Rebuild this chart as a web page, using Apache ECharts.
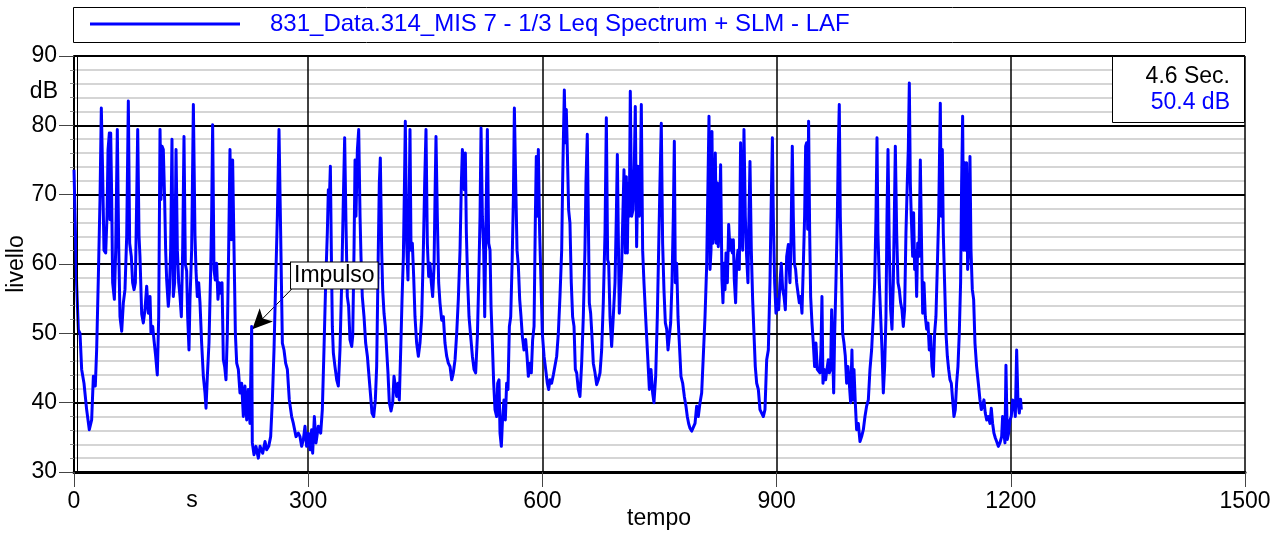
<!DOCTYPE html>
<html>
<head>
<meta charset="utf-8">
<script src="https://cdn.jsdelivr.net/npm/echarts@6/dist/echarts.min.js"></script>
<style>
html,body{margin:0;padding:0;background:#fff;}
#chart{width:1285px;height:533px;}
</style>
</head>
<body>
<div id="chart"></div>
<script>
// ---- DATA ----
const seriesName = '831_Data.314_MIS 7 - 1/3 Leq Spectrum + SLM - LAF';
const xTicks = [0, 300, 600, 900, 1200, 1500];
const yTicks = [30, 40, 50, 60, 70, 80, 90];
const readoutTime = '4.6 Sec.';
const readoutLevel = '50.4 dB';
const impulseText = 'Impulso';
const impulsePoint = [228.4, 50.6];
const impulseLabelAnchor = [278, 60.2];
const impulseArrowTail = [279, 56.4];

const times = [
0,3.4,5.6,7.7,9.8,12.8,16.2,19.6,22.6,24.8,27.3,29.0,31.2,33.3,35.0,36.7,38.4,40.6,42.3,43.6,45.3,46.1,47.0,48.2,49.5,51.7,53.4,55.5,57.2,58.9,61.1,63.2,65.3,67.5,69.6,71.3,73.4,75.1,76.9,78.6,80.3,81.6,83.3,84.5,86.7,88.8,90.9,93.1,95.2,97.4,98.6,100.8,102.5,104.6,106.7,108.5,110.2,111.4,112.7,114.4,116.1,117.4,118.7,120.8,122.1,123.8,125.5,127.2,128.9,130.7,132.4,134.1,135.8,137.5,139.2,140.9,142.6,144.3,145.6,147.3,148.6,150.7,152.9,155.0,156.3,158.0,159.7,161.4,163.5,165.7,167.8,169.1,170.8,172.9,175.1,176.3,177.6,179.3,181.0,182.7,184.4,186.2,187.9,189.6,191.3,193.0,194.7,196.4,198.1,199.8,201.5,203.2,205.0,206.7,208.4,210.5,212.6,214.8,216.9,219.0,221.2,223.3,225.4,227.6,228.4,230.6,233.1,236.1,238.3,241.7,244.7,246.8,249.4,251.9,254.1,256.2,258.3,260.5,262.6,264.7,266.9,269.0,271.1,273.3,275.8,278.8,281.0,284.4,287.4,
289.5,291.6,293.8,295.9,298.0,300.2,302.3,304.4,305.7,307.9,310.0,313.0,316.0,318.1,320.2,322.4,324.5,325.8,327.1,328.4,329.6,330.9,332.2,334.3,336.5,338.6,340.7,342.9,345.0,346.7,348.4,350.1,351.8,353.5,355.7,357.0,358.7,360.0,361.2,363.0,364.7,366.4,367.6,369.3,371.5,373.6,375.8,377.9,380.0,381.7,383.9,386.0,387.7,389.8,391.1,392.4,394.1,395.4,397.1,398.8,400.5,402.2,403.9,406.1,408.2,409.9,411.6,413.3,415.0,416.7,418.5,420.2,421.9,423.2,424.4,426.1,427.8,429.1,430.4,431.7,433.4,435.1,436.8,438.9,441.1,443.2,445.4,447.5,449.2,450.9,452.6,454.3,456.0,457.7,459.4,461.2,462.4,463.7,465.4,467.1,468.8,471.0,473.1,475.2,477.4,479.5,481.7,483.8,485.9,488.1,490.2,492.3,494.5,496.2,497.5,498.7,500.0,501.3,502.6,504.3,506.0,508.1,510.3,512.4,514.5,516.7,518.4,520.1,521.4,523.1,524.8,526.1,527.8,529.5,531.2,532.9,534.2,535.9,537.6,539.3,541.4,542.7,544.4,545.7,547.4,549.1,550.8,552.5,554.2,555.9,557.7,559.4,561.1,562.8,564.1,565.8,567.5,569.2,570.9,572.6,574.3,576.4,578.6,580.3,582.0,584.1,585.8,587.5,589.3,591.0,592.2,593.5,594.8,596.5,598.2,599.9,602.1,604.2,606.3,608.0,
609.7,611.8,614.0,616.1,618.3,620.4,622.5,624.7,625.9,626.8,628.1,629.4,630.6,631.9,633.6,635.3,637.0,638.7,640.5,642.2,643.9,646.0,648.1,650.3,652.4,654.5,655.8,657.5,658.8,660.1,661.8,663.5,665.2,667.4,669.5,671.6,673.8,675.9,678.0,680.2,681.9,683.6,684.9,686.6,688.7,690.8,693.0,694.7,696.0,697.2,698.5,700.2,701.5,702.8,704.5,706.2,707.5,708.8,710.1,711.3,712.6,714.3,716.0,717.7,719.0,720.7,722.4,724.1,725.4,726.7,728.4,730.1,731.8,733.5,735.7,737.0,739.1,741.2,742.9,745.1,747.2,748.9,750.6,752.3,754.0,755.7,757.5,759.2,760.9,762.6,764.3,766.0,767.7,769.0,770.3,772.0,773.7,775.4,777.5,779.7,781.8,783.9,785.6,787.3,789.1,791.2,793.3,795.5,797.6,799.7,801.9,804.0,806.1,808.3,810.4,812.1,813.4,814.7,816.0,817.2,818.5,819.8,821.5,822.8,824.1,825.3,827.0,828.3,830.0,831.3,832.6,833.9,835.2,836.9,838.6,840.3,841.6,843.3,844.6,845.8,847.5,848.8,850.5,852.2,853.9,855.2,856.5,858.2,859.9,861.6,863.3,864.6,865.9,867.6,869.3,871.0,872.7,874.5,876.6,878.7,880.9,883.0,885.1,887.3,889.4,891.5,892.8,894.6,895.8,897.5,899.2,900.9,902.6,904.3,906.0,907.8,909.5,911.2,912.9,915.0,916.7,
917.1,918.4,920.1,921.4,922.7,924.4,925.7,927.4,929.1,930.8,932.5,934.2,935.9,937.2,938.5,939.8,941.0,942.3,943.6,945.3,947.0,948.7,950.4,952.1,953.8,955.5,956.8,958.1,959.4,961.1,962.8,964.5,966.2,967.5,969.2,970.5,971.8,973.1,974.3,976.0,977.8,979.0,980.3,981.6,982.9,984.6,986.3,988.0,989.7,991.4,993.1,994.8,996.5,997.8,999.1,1000.8,1002.5,1004.7,1006.8,1008.9,1011.1,1013.2,1015.3,1017.5,1019.6,1021.7,1023.9,1025.6,1027.3,1028.6,1029.8,1031.6,1033.3,1035.0,1036.7,1038.4,1040.1,1041.4,1042.7,1044.4,1046.1,1047.8,1049.5,1050.8,1052.1,1053.8,1055.5,1057.2,1058.9,1060.6,1062.3,1064.0,1065.7,1067.4,1068.7,1070.0,1071.3,1072.5,1074.3,1075.5,1076.8,1078.1,1079.4,1080.7,1082.4,1084.1,1085.8,1087.1,1088.8,1090.5,1092.2,1093.9,1095.6,1097.3,1099.0,1100.7,1102.4,1104.1,1105.9,1107.6,1108.8,1109.7,1111.0,1112.3,1113.5,1115.2,1117.0,1118.7,1120.4,1122.1,1123.8,1125.5,1127.2,1128.9,1130.6,1132.3,1134.0,1135.7,1137.0,1138.3,1139.6,1140.9,1142.1,1143.4,1144.7,1146.0,1147.7,1149.0,1150.7,1152.4,1154.1,1156.2,1158.4,1160.5,1162.2,1163.9,1165.6,1167.3,1169.1,1171.2,1173.3,1175.0,1176.7,1178.4,1180.2,1181.9,1184.0,1186.1,1188.3,1189.5,1191.3,1192.5,1193.8,1195.5,1197.2,1198.9,1200.6,1202.3,1204.1,1205.8,1207.5,1209.2,1210.9,1212.5,1213.5
];

const levels = [
73.6,57,50.5,50,44.8,42.8,39,36.1,37.5,43.8,42.4,47.6,58.2,69.3,82.5,73,62,61.6,67,76.5,78.9,66.4,78.9,70.2,57.3,54.9,62,79.4,63,52.4,50.3,54.4,56.3,64,83.5,63,61.1,57.3,56.3,57.3,69.3,79.4,64,61.1,52.8,51.5,53.4,56.8,52.9,55.3,50,51,49,46.7,44,52.4,79.4,69.3,77,76.5,69.3,62,57.7,53.9,55.8,62,78,55.3,57.3,76.5,62,57.3,55.3,52.4,62,78.4,60,59,52.4,47.6,55,62,83,64,59,55.3,57.3,54.4,48.6,43.8,41.4,39.2,43.8,48.6,59.2,66.9,80.1,59.2,57.7,60.1,54.9,57.3,55.8,57.3,46.2,45.2,43.3,50,62,76.5,63.5,75,62,50,45.7,44.8,41.4,42.8,38,42.4,37.5,41.9,37,51,34.2,32.5,33.7,32,33.7,32.7,34.4,33.2,33.7,35.1,40.4,47.6,57.3,66.9,79.4,64.5,48.6,47.6,45.7,44.8,40.4,38,37,35.1,35.6,
35.1,33.7,34.7,36.6,33.7,35.6,33.2,36.1,32.7,38,34.2,36.6,35.6,39,47.6,57.3,64.5,70.7,69.3,74.1,62,51,47.2,45.2,43.3,42.4,47.6,57.3,69.3,78.2,65.9,55.3,53.9,49.1,48.1,49.6,62,75,66.9,76.5,79.4,66.9,61.1,55.3,52.4,48.6,46.7,43.8,40.9,38.5,38,40.4,45.2,62,71.7,75.3,62,56.3,52.9,51,47.6,44.3,40,38.8,40,43.8,42.4,40.9,42.8,40.4,47.6,54.9,61.1,70.7,80.6,63,57.7,66.9,79.4,62,63,58.2,52.4,48.6,46.7,48.6,52.4,62,71.7,79.4,63,58.2,60.1,57.3,55.3,59.7,69.3,78.4,66.9,57.3,54.4,51.9,52.4,48.6,46.7,45.7,45.2,43.3,44.3,46.2,50,54.9,62,71.7,76.5,76.5,70.7,76,64.5,57.3,52.4,49.6,46.7,44.8,44.3,49.6,57.3,66.9,79.6,66.9,62,52.4,66.9,79.4,63,62,53.9,48.6,42.8,39,38,42.8,43.3,35.6,33.7,38,40.4,37.5,42.8,41.9,51,52.4,59.7,69.3,82.5,71.7,62,59.7,54.9,52.4,49.6,47.6,49.1,46.7,43.8,45.7,44.3,49.1,51,66.9,75.5,66.9,76.5,64.5,57.3,50,46.7,44.8,42.8,41.9,
43.3,42.8,44,43.8,46.7,50,55.3,62,71.7,77.5,85.1,77.5,82.3,76.5,67.8,65.9,57.3,52.4,51,44.8,44.3,41.9,40.9,45.7,52.4,62,71.7,78.7,66.9,54.4,52.9,49.6,45.7,44.3,42.6,43.3,44.3,47.6,54.4,64.5,81.1,60.6,60.1,52.4,48.1,52.4,57.3,66.9,75.8,64.5,52.9,52.9,59.7,65.9,73.6,61.6,72.6,61.6,71.7,66.9,84.9,66.9,67.8,74.1,82.7,62.5,74.1,66.9,70.7,83,62,57.3,53.4,49.6,44.8,41.9,44.8,41.4,40,43.8,52.4,62,71.7,80.3,63,56.3,51.5,50.6,47.6,47.6,51.5,57.3,66.9,77.7,57.3,60.1,52.4,48.6,43.8,42.8,40.9,39.5,38,37,36.3,35.9,36.1,37,39.5,38,40,41.4,46.7,52.4,59.7,71.7,81.3,59.2,62,79.1,63,64.9,76,63,71.7,62.5,66.9,74.3,57.7,54.4,60.1,56.3,61.6,57.3,65.7,62,63.5,61.6,63.5,57.7,54.4,60.1,62,59.2,77.5,66.9,62,79.4,66.9,61.1,57.3,66.9,74.8,62,54.9,50,45.2,42.8,41.9,39,39,38,39,46.2,47.6,57.3,66.9,78.2,66.9,57.3,52.9,54.9,53.4,57.3,60.1,56.3,55.3,53.4,61.1,62.8,58.2,
57.3,63,77,66.9,60.1,59.2,57.3,55.8,54.4,55.3,52.9,59.7,66.9,77,77.5,65,80.6,65,55.3,51.5,48.6,45.2,48.6,44.8,44.8,44.3,47.6,55.3,42.8,44.8,43.3,44.8,46.2,44.3,44.8,53.4,47.6,41.4,49.6,57.3,66.9,76.5,83,66.9,59.7,50,48.6,46.7,42.8,45.2,42.8,40,47.6,40.4,44.8,40,36.1,37,34.4,35.1,36.1,38,39.5,40.4,44.8,47.6,52.4,57.3,66.9,78.2,64.5,57.3,52.4,47.6,41.4,45.2,52.4,66.9,76.5,62,53.4,50.6,57.3,66.9,77,64.5,57.3,56.3,54.4,53.4,51,53.4,64.5,71.7,76.5,86.1,71.7,66.9,61.1,67.4,59.2,62,55.3,63,61.1,75,62,52.9,57.3,52.4,50.6,51.5,47.6,49.6,45.2,43.8,50,52.4,59.7,66.9,76.5,83.2,66.9,76.5,64.5,57.3,50,46.7,44.8,43.3,42.8,40.4,38,39,42.8,45.2,50,57.3,71.7,81.3,62,74.6,62,74.6,59.2,62,75.5,62,56.3,54.9,48.6,45.2,42.8,40.4,39,39.5,40.4,38.5,37.5,38,37,39.2,37,35.6,34.9,34.4,33.7,34.2,35.1,38,35.6,34.2,45.4,34.7,35.6,37.5,38,40.4,40,38,47.6,40,38.5,40.5,39
];

// ---- CHART ----
const FONT = 'Liberation Sans, Arial, Helvetica, sans-serif';
const lineData = times.map((t, i) => [t, levels[i]]);
const chart = echarts.init(document.getElementById('chart'), null, {renderer: 'canvas'});

chart.setOption({
  animation: false,
  backgroundColor: '#ffffff',
  textStyle: {fontFamily: FONT},
  grid: {left: 74, right: 40, top: 56, bottom: 61, containLabel: false},
  legend: {
    left: 90, top: 12, padding: 0,
    itemWidth: 150, itemHeight: 3, icon: 'rect',
    textStyle: {color: '#0000ff', fontSize: 24, fontFamily: FONT, padding: [0, 0, 0, 25]},
    data: [seriesName]
  },
  xAxis: {
    type: 'value', min: xTicks[0], max: xTicks[xTicks.length - 1], interval: 300,
    axisLine: {show: true, onZero: false, lineStyle: {color: '#000', width: 3}},
    axisTick: {show: true, length: 15, lineStyle: {color: '#444', width: 1}},
    axisLabel: {color: '#000', fontSize: 23, fontFamily: FONT, margin: 18,
      formatter: v => xTicks.includes(v) ? String(v) : ''},
    splitLine: {show: true, lineStyle: {color: '#000', width: 1.5}}
  },
  yAxis: {
    type: 'value', min: yTicks[0], max: yTicks[yTicks.length - 1], interval: 10,
    axisLine: {show: true, onZero: false, lineStyle: {color: '#000', width: 2}},
    axisTick: {show: true, length: 15, lineStyle: {color: '#444', width: 1}},
    minorTick: {show: true, splitNumber: 5, length: 4, lineStyle: {color: '#888', width: 1}},
    axisLabel: {color: '#000', fontSize: 23, fontFamily: FONT, margin: 17,
      formatter: v => yTicks.includes(v) ? String(v) : ''},
    splitLine: {show: true, lineStyle: {color: '#000', width: 2}},
    minorSplitLine: {show: true, lineStyle: {color: '#c8c8c8', width: 1.5}}
  },
  series: [{
    name: seriesName,
    type: 'line',
    data: lineData,
    showSymbol: false,
    symbol: 'none',
    sampling: null,
    color: '#0000ff',
    lineStyle: {color: '#0000ff', width: 3, join: 'round'},
    z: 5,
    markLine: {
      silent: true,
      symbol: ['none', 'arrow'],
      symbolSize: [14, 20],
      lineStyle: {color: '#000', width: 1, type: 'solid'},
      label: {show: false},
      data: [[{coord: impulseArrowTail}, {coord: impulsePoint}]]
    }
  }, {
    name: 'annotation',
    type: 'scatter',
    z: 20,
    silent: true,
    symbolSize: 0,
    itemStyle: {opacity: 1, color: '#000'},
    emphasis: {disabled: true},
    data: [impulseLabelAnchor],
    label: {
      show: true, position: [0, 0], formatter: impulseText,
      color: '#000', opacity: 1, fontSize: 23, fontFamily: FONT,
      backgroundColor: '#fff', borderColor: '#000', borderWidth: 1,
      padding: [2, 3, 1, 3]
    }
  }],
  graphic: [
    {type: 'rect', shape: {x: 73.5, y: 7.5, width: 1172, height: 35}, style: {fill: 'none', stroke: '#000', lineWidth: 1}, z: 10},
    {type: 'line', shape: {x1: 77.5, y1: 56, x2: 77.5, y2: 472}, style: {stroke: '#000', lineWidth: 1}, z: 10},
    {type: 'rect', shape: {x: 1112.5, y: 56.5, width: 132, height: 66}, style: {fill: '#fff', stroke: '#000', lineWidth: 1}, z: 10},
    {type: 'text', x: 1230, y: 77, style: {text: readoutTime, fill: '#000', font: '23px ' + FONT, textAlign: 'right', textVerticalAlign: 'middle'}, z: 11},
    {type: 'text', x: 1230, y: 103, style: {text: readoutLevel, fill: '#0000ff', font: '23px ' + FONT, textAlign: 'right', textVerticalAlign: 'middle'}, z: 11},
    {type: 'text', x: 58, y: 92, style: {text: 'dB', fill: '#000', font: '23px ' + FONT, textAlign: 'right', textVerticalAlign: 'middle'}, z: 11},
    {type: 'text', x: 192, y: 501, style: {text: 's', fill: '#000', font: '23px ' + FONT, textAlign: 'center', textVerticalAlign: 'middle'}, z: 11},
    {type: 'text', x: 659, y: 519, style: {text: 'tempo', fill: '#000', font: '23px ' + FONT, textAlign: 'center', textVerticalAlign: 'middle'}, z: 11},
    {type: 'text', x: 17, y: 264, rotation: Math.PI / 2, style: {text: 'livello', fill: '#000', font: '23px ' + FONT, textAlign: 'center', textVerticalAlign: 'middle'}, z: 11}
  ]
});
</script>
</body>
</html>
